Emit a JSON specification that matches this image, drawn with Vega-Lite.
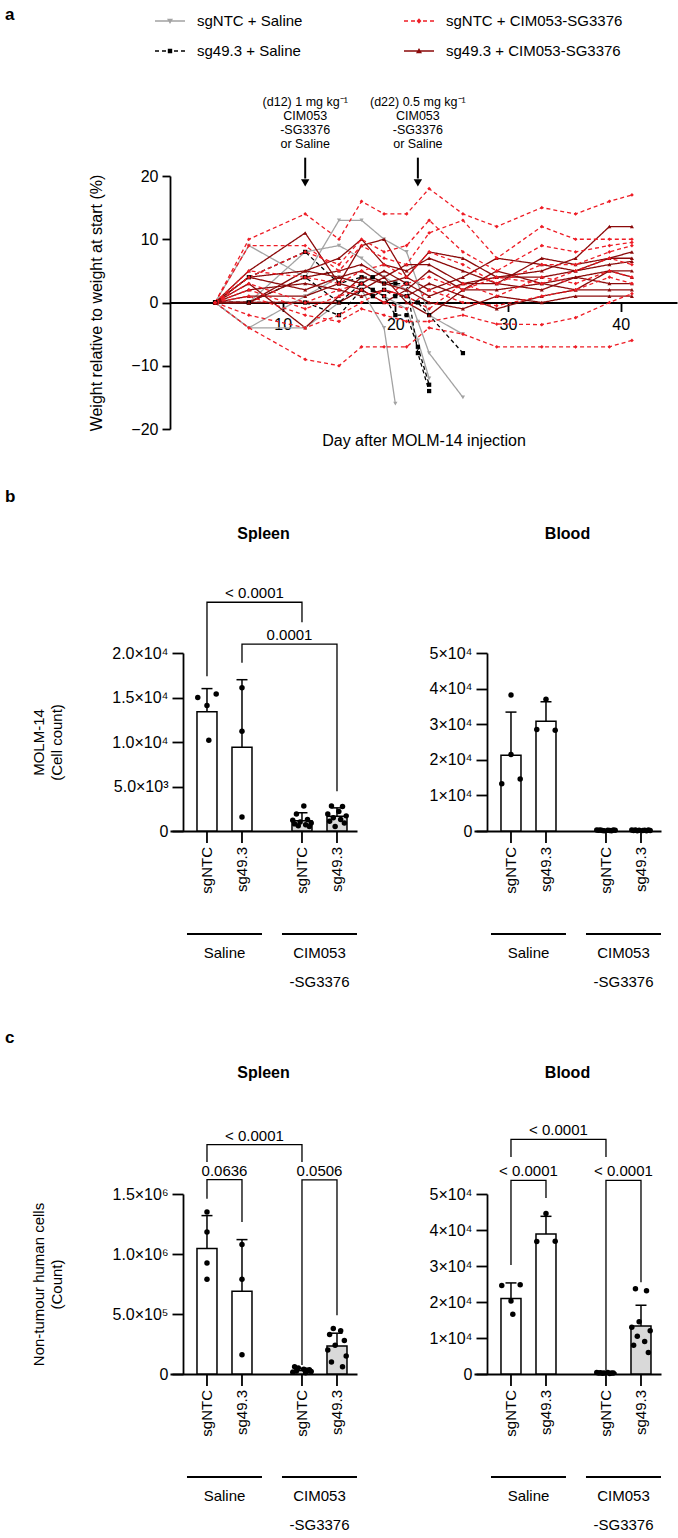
{
"$schema":"https://vega.github.io/schema/vega-lite/v6.json",
"padding":5,
"background":"white",
"spacing":39,
"config":{"font":"Liberation Sans","view":{"stroke":null},
"axis":{"labelFont":"Liberation Sans","titleFont":"Liberation Sans","labelColor":"black","titleColor":"black","domainColor":"black","tickColor":"black","domainWidth":1.8,"tickWidth":1.8,"grid":false,"titleFontWeight":"normal","labelFontSize":15,"titleFontSize":15,"labelOverlap":false},
"axisY":{"labelOverlap":false},
"axisQuantitative":{"labelOverlap":false},
"text":{"font":"Liberation Sans","color":"black"},
"title":{"font":"Liberation Sans","color":"black"},
"legend":{"labelFont":"Liberation Sans","labelColor":"black"}},
"datasets":{
"wt":[
{"g":"sgNTC + Saline","m":"G1","d":4,"v":0},{"g":"sgNTC + Saline","m":"G1","d":7,"v":9},{"g":"sgNTC + Saline","m":"G1","d":12,"v":4},{"g":"sgNTC + Saline","m":"G1","d":15,"v":13},{"g":"sgNTC + Saline","m":"G1","d":17,"v":13},{"g":"sgNTC + Saline","m":"G1","d":19,"v":10},{"g":"sgNTC + Saline","m":"G1","d":21,"v":8},{"g":"sgNTC + Saline","m":"G1","d":22,"v":3},{"g":"sgNTC + Saline","m":"G1","d":23,"v":-2},{"g":"sgNTC + Saline","m":"G1","d":26,"v":-5},
{"g":"sgNTC + Saline","m":"G2","d":4,"v":0},{"g":"sgNTC + Saline","m":"G2","d":7,"v":-4},{"g":"sgNTC + Saline","m":"G2","d":12,"v":-4},{"g":"sgNTC + Saline","m":"G2","d":15,"v":0},{"g":"sgNTC + Saline","m":"G2","d":17,"v":2},{"g":"sgNTC + Saline","m":"G2","d":19,"v":-4},{"g":"sgNTC + Saline","m":"G2","d":20,"v":-16},
{"g":"sgNTC + Saline","m":"G3","d":4,"v":0},{"g":"sgNTC + Saline","m":"G3","d":7,"v":0},{"g":"sgNTC + Saline","m":"G3","d":12,"v":8},{"g":"sgNTC + Saline","m":"G3","d":15,"v":9},{"g":"sgNTC + Saline","m":"G3","d":17,"v":7},{"g":"sgNTC + Saline","m":"G3","d":19,"v":4},{"g":"sgNTC + Saline","m":"G3","d":21,"v":2},{"g":"sgNTC + Saline","m":"G3","d":22,"v":-3},{"g":"sgNTC + Saline","m":"G3","d":23,"v":-8},{"g":"sgNTC + Saline","m":"G3","d":26,"v":-15},
{"g":"sgNTC + Saline","m":"G4","d":4,"v":0},{"g":"sgNTC + Saline","m":"G4","d":7,"v":-4},{"g":"sgNTC + Saline","m":"G4","d":12,"v":1},{"g":"sgNTC + Saline","m":"G4","d":15,"v":4},{"g":"sgNTC + Saline","m":"G4","d":17,"v":3},{"g":"sgNTC + Saline","m":"G4","d":19,"v":1},{"g":"sgNTC + Saline","m":"G4","d":21,"v":-1},{"g":"sgNTC + Saline","m":"G4","d":22,"v":-6},{"g":"sgNTC + Saline","m":"G4","d":23,"v":-12},
{"g":"sg49.3 + Saline","m":"B1","d":4,"v":0},{"g":"sg49.3 + Saline","m":"B1","d":7,"v":4},{"g":"sg49.3 + Saline","m":"B1","d":12,"v":8},{"g":"sg49.3 + Saline","m":"B1","d":15,"v":3},{"g":"sg49.3 + Saline","m":"B1","d":17,"v":4},{"g":"sg49.3 + Saline","m":"B1","d":18,"v":4},{"g":"sg49.3 + Saline","m":"B1","d":19,"v":3},{"g":"sg49.3 + Saline","m":"B1","d":20,"v":3},{"g":"sg49.3 + Saline","m":"B1","d":21,"v":3},{"g":"sg49.3 + Saline","m":"B1","d":22,"v":-8},{"g":"sg49.3 + Saline","m":"B1","d":23,"v":-14},
{"g":"sg49.3 + Saline","m":"B2","d":4,"v":0},{"g":"sg49.3 + Saline","m":"B2","d":7,"v":0},{"g":"sg49.3 + Saline","m":"B2","d":12,"v":4},{"g":"sg49.3 + Saline","m":"B2","d":15,"v":0},{"g":"sg49.3 + Saline","m":"B2","d":17,"v":3},{"g":"sg49.3 + Saline","m":"B2","d":18,"v":2},{"g":"sg49.3 + Saline","m":"B2","d":19,"v":1},{"g":"sg49.3 + Saline","m":"B2","d":20,"v":-2},{"g":"sg49.3 + Saline","m":"B2","d":21,"v":-2},{"g":"sg49.3 + Saline","m":"B2","d":22,"v":-7},{"g":"sg49.3 + Saline","m":"B2","d":23,"v":-13},
{"g":"sg49.3 + Saline","m":"B3","d":4,"v":0},{"g":"sg49.3 + Saline","m":"B3","d":7,"v":0},{"g":"sg49.3 + Saline","m":"B3","d":12,"v":0},{"g":"sg49.3 + Saline","m":"B3","d":15,"v":-2},{"g":"sg49.3 + Saline","m":"B3","d":17,"v":2},{"g":"sg49.3 + Saline","m":"B3","d":18,"v":1},{"g":"sg49.3 + Saline","m":"B3","d":19,"v":2},{"g":"sg49.3 + Saline","m":"B3","d":20,"v":1},{"g":"sg49.3 + Saline","m":"B3","d":21,"v":1},{"g":"sg49.3 + Saline","m":"B3","d":22,"v":0},{"g":"sg49.3 + Saline","m":"B3","d":23,"v":-2},{"g":"sg49.3 + Saline","m":"B3","d":26,"v":-8},
{"g":"sg49.3 + CIM053-SG3376","m":"D1","d":4,"v":0},{"g":"sg49.3 + CIM053-SG3376","m":"D1","d":7,"v":5},{"g":"sg49.3 + CIM053-SG3376","m":"D1","d":12,"v":11},{"g":"sg49.3 + CIM053-SG3376","m":"D1","d":15,"v":3},{"g":"sg49.3 + CIM053-SG3376","m":"D1","d":17,"v":9},{"g":"sg49.3 + CIM053-SG3376","m":"D1","d":19,"v":10},{"g":"sg49.3 + CIM053-SG3376","m":"D1","d":21,"v":4},{"g":"sg49.3 + CIM053-SG3376","m":"D1","d":23,"v":8},{"g":"sg49.3 + CIM053-SG3376","m":"D1","d":26,"v":7},{"g":"sg49.3 + CIM053-SG3376","m":"D1","d":29,"v":4},{"g":"sg49.3 + CIM053-SG3376","m":"D1","d":33,"v":5},{"g":"sg49.3 + CIM053-SG3376","m":"D1","d":36,"v":7},{"g":"sg49.3 + CIM053-SG3376","m":"D1","d":39,"v":12},{"g":"sg49.3 + CIM053-SG3376","m":"D1","d":41,"v":12},
{"g":"sg49.3 + CIM053-SG3376","m":"D2","d":4,"v":0},{"g":"sg49.3 + CIM053-SG3376","m":"D2","d":7,"v":4},{"g":"sg49.3 + CIM053-SG3376","m":"D2","d":12,"v":5},{"g":"sg49.3 + CIM053-SG3376","m":"D2","d":15,"v":7},{"g":"sg49.3 + CIM053-SG3376","m":"D2","d":17,"v":10},{"g":"sg49.3 + CIM053-SG3376","m":"D2","d":19,"v":6},{"g":"sg49.3 + CIM053-SG3376","m":"D2","d":21,"v":5},{"g":"sg49.3 + CIM053-SG3376","m":"D2","d":23,"v":7},{"g":"sg49.3 + CIM053-SG3376","m":"D2","d":26,"v":5},{"g":"sg49.3 + CIM053-SG3376","m":"D2","d":29,"v":3},{"g":"sg49.3 + CIM053-SG3376","m":"D2","d":33,"v":7},{"g":"sg49.3 + CIM053-SG3376","m":"D2","d":36,"v":6},{"g":"sg49.3 + CIM053-SG3376","m":"D2","d":39,"v":7},{"g":"sg49.3 + CIM053-SG3376","m":"D2","d":41,"v":8},
{"g":"sg49.3 + CIM053-SG3376","m":"D3","d":4,"v":0},{"g":"sg49.3 + CIM053-SG3376","m":"D3","d":7,"v":0},{"g":"sg49.3 + CIM053-SG3376","m":"D3","d":12,"v":4},{"g":"sg49.3 + CIM053-SG3376","m":"D3","d":15,"v":5},{"g":"sg49.3 + CIM053-SG3376","m":"D3","d":17,"v":6},{"g":"sg49.3 + CIM053-SG3376","m":"D3","d":19,"v":4},{"g":"sg49.3 + CIM053-SG3376","m":"D3","d":21,"v":6},{"g":"sg49.3 + CIM053-SG3376","m":"D3","d":23,"v":6},{"g":"sg49.3 + CIM053-SG3376","m":"D3","d":26,"v":3},{"g":"sg49.3 + CIM053-SG3376","m":"D3","d":29,"v":4},{"g":"sg49.3 + CIM053-SG3376","m":"D3","d":33,"v":4},{"g":"sg49.3 + CIM053-SG3376","m":"D3","d":36,"v":5},{"g":"sg49.3 + CIM053-SG3376","m":"D3","d":39,"v":7},{"g":"sg49.3 + CIM053-SG3376","m":"D3","d":41,"v":7},
{"g":"sg49.3 + CIM053-SG3376","m":"D4","d":4,"v":0},{"g":"sg49.3 + CIM053-SG3376","m":"D4","d":7,"v":3},{"g":"sg49.3 + CIM053-SG3376","m":"D4","d":12,"v":-4},{"g":"sg49.3 + CIM053-SG3376","m":"D4","d":15,"v":1},{"g":"sg49.3 + CIM053-SG3376","m":"D4","d":17,"v":4},{"g":"sg49.3 + CIM053-SG3376","m":"D4","d":19,"v":3},{"g":"sg49.3 + CIM053-SG3376","m":"D4","d":21,"v":2},{"g":"sg49.3 + CIM053-SG3376","m":"D4","d":23,"v":5},{"g":"sg49.3 + CIM053-SG3376","m":"D4","d":26,"v":2},{"g":"sg49.3 + CIM053-SG3376","m":"D4","d":29,"v":2},{"g":"sg49.3 + CIM053-SG3376","m":"D4","d":33,"v":3},{"g":"sg49.3 + CIM053-SG3376","m":"D4","d":36,"v":2},{"g":"sg49.3 + CIM053-SG3376","m":"D4","d":39,"v":5},{"g":"sg49.3 + CIM053-SG3376","m":"D4","d":41,"v":5},
{"g":"sg49.3 + CIM053-SG3376","m":"D5","d":4,"v":0},{"g":"sg49.3 + CIM053-SG3376","m":"D5","d":7,"v":0},{"g":"sg49.3 + CIM053-SG3376","m":"D5","d":12,"v":5},{"g":"sg49.3 + CIM053-SG3376","m":"D5","d":15,"v":4},{"g":"sg49.3 + CIM053-SG3376","m":"D5","d":17,"v":3},{"g":"sg49.3 + CIM053-SG3376","m":"D5","d":19,"v":5},{"g":"sg49.3 + CIM053-SG3376","m":"D5","d":21,"v":3},{"g":"sg49.3 + CIM053-SG3376","m":"D5","d":23,"v":1},{"g":"sg49.3 + CIM053-SG3376","m":"D5","d":26,"v":3},{"g":"sg49.3 + CIM053-SG3376","m":"D5","d":29,"v":3},{"g":"sg49.3 + CIM053-SG3376","m":"D5","d":33,"v":2},{"g":"sg49.3 + CIM053-SG3376","m":"D5","d":36,"v":4},{"g":"sg49.3 + CIM053-SG3376","m":"D5","d":39,"v":3},{"g":"sg49.3 + CIM053-SG3376","m":"D5","d":41,"v":3},
{"g":"sg49.3 + CIM053-SG3376","m":"D6","d":4,"v":0},{"g":"sg49.3 + CIM053-SG3376","m":"D6","d":7,"v":2},{"g":"sg49.3 + CIM053-SG3376","m":"D6","d":12,"v":3},{"g":"sg49.3 + CIM053-SG3376","m":"D6","d":15,"v":2},{"g":"sg49.3 + CIM053-SG3376","m":"D6","d":17,"v":1},{"g":"sg49.3 + CIM053-SG3376","m":"D6","d":19,"v":2},{"g":"sg49.3 + CIM053-SG3376","m":"D6","d":21,"v":1},{"g":"sg49.3 + CIM053-SG3376","m":"D6","d":23,"v":3},{"g":"sg49.3 + CIM053-SG3376","m":"D6","d":26,"v":1},{"g":"sg49.3 + CIM053-SG3376","m":"D6","d":29,"v":-1},{"g":"sg49.3 + CIM053-SG3376","m":"D6","d":33,"v":1},{"g":"sg49.3 + CIM053-SG3376","m":"D6","d":36,"v":2},{"g":"sg49.3 + CIM053-SG3376","m":"D6","d":39,"v":2},{"g":"sg49.3 + CIM053-SG3376","m":"D6","d":41,"v":2},
{"g":"sg49.3 + CIM053-SG3376","m":"D7","d":4,"v":0},{"g":"sg49.3 + CIM053-SG3376","m":"D7","d":7,"v":0},{"g":"sg49.3 + CIM053-SG3376","m":"D7","d":12,"v":0},{"g":"sg49.3 + CIM053-SG3376","m":"D7","d":15,"v":0},{"g":"sg49.3 + CIM053-SG3376","m":"D7","d":17,"v":2},{"g":"sg49.3 + CIM053-SG3376","m":"D7","d":19,"v":0},{"g":"sg49.3 + CIM053-SG3376","m":"D7","d":21,"v":2},{"g":"sg49.3 + CIM053-SG3376","m":"D7","d":23,"v":0},{"g":"sg49.3 + CIM053-SG3376","m":"D7","d":26,"v":-1},{"g":"sg49.3 + CIM053-SG3376","m":"D7","d":29,"v":1},{"g":"sg49.3 + CIM053-SG3376","m":"D7","d":33,"v":0},{"g":"sg49.3 + CIM053-SG3376","m":"D7","d":36,"v":1},{"g":"sg49.3 + CIM053-SG3376","m":"D7","d":39,"v":1},{"g":"sg49.3 + CIM053-SG3376","m":"D7","d":41,"v":1},
{"g":"sg49.3 + CIM053-SG3376","m":"D8","d":4,"v":0},{"g":"sg49.3 + CIM053-SG3376","m":"D8","d":7,"v":4},{"g":"sg49.3 + CIM053-SG3376","m":"D8","d":12,"v":2},{"g":"sg49.3 + CIM053-SG3376","m":"D8","d":15,"v":4},{"g":"sg49.3 + CIM053-SG3376","m":"D8","d":17,"v":5},{"g":"sg49.3 + CIM053-SG3376","m":"D8","d":19,"v":3},{"g":"sg49.3 + CIM053-SG3376","m":"D8","d":21,"v":4},{"g":"sg49.3 + CIM053-SG3376","m":"D8","d":23,"v":2},{"g":"sg49.3 + CIM053-SG3376","m":"D8","d":26,"v":4},{"g":"sg49.3 + CIM053-SG3376","m":"D8","d":29,"v":7},{"g":"sg49.3 + CIM053-SG3376","m":"D8","d":33,"v":6},{"g":"sg49.3 + CIM053-SG3376","m":"D8","d":36,"v":5},{"g":"sg49.3 + CIM053-SG3376","m":"D8","d":39,"v":6},{"g":"sg49.3 + CIM053-SG3376","m":"D8","d":41,"v":6.5},
{"g":"sg49.3 + CIM053-SG3376","m":"D9","d":4,"v":0},{"g":"sg49.3 + CIM053-SG3376","m":"D9","d":7,"v":1},{"g":"sg49.3 + CIM053-SG3376","m":"D9","d":12,"v":1},{"g":"sg49.3 + CIM053-SG3376","m":"D9","d":15,"v":3},{"g":"sg49.3 + CIM053-SG3376","m":"D9","d":17,"v":2},{"g":"sg49.3 + CIM053-SG3376","m":"D9","d":19,"v":4},{"g":"sg49.3 + CIM053-SG3376","m":"D9","d":21,"v":0},{"g":"sg49.3 + CIM053-SG3376","m":"D9","d":23,"v":-2},{"g":"sg49.3 + CIM053-SG3376","m":"D9","d":26,"v":2},{"g":"sg49.3 + CIM053-SG3376","m":"D9","d":29,"v":5},{"g":"sg49.3 + CIM053-SG3376","m":"D9","d":33,"v":3},{"g":"sg49.3 + CIM053-SG3376","m":"D9","d":36,"v":4},{"g":"sg49.3 + CIM053-SG3376","m":"D9","d":39,"v":5},{"g":"sg49.3 + CIM053-SG3376","m":"D9","d":41,"v":4},
{"g":"sgNTC + CIM053-SG3376","m":"R1","d":4,"v":0},{"g":"sgNTC + CIM053-SG3376","m":"R1","d":7,"v":10},{"g":"sgNTC + CIM053-SG3376","m":"R1","d":12,"v":14},{"g":"sgNTC + CIM053-SG3376","m":"R1","d":15,"v":10},{"g":"sgNTC + CIM053-SG3376","m":"R1","d":17,"v":16},{"g":"sgNTC + CIM053-SG3376","m":"R1","d":19,"v":14},{"g":"sgNTC + CIM053-SG3376","m":"R1","d":21,"v":14},{"g":"sgNTC + CIM053-SG3376","m":"R1","d":23,"v":18},{"g":"sgNTC + CIM053-SG3376","m":"R1","d":26,"v":14},{"g":"sgNTC + CIM053-SG3376","m":"R1","d":29,"v":12},{"g":"sgNTC + CIM053-SG3376","m":"R1","d":33,"v":15},{"g":"sgNTC + CIM053-SG3376","m":"R1","d":36,"v":14},{"g":"sgNTC + CIM053-SG3376","m":"R1","d":39,"v":16},{"g":"sgNTC + CIM053-SG3376","m":"R1","d":41,"v":17},
{"g":"sgNTC + CIM053-SG3376","m":"R2","d":4,"v":0},{"g":"sgNTC + CIM053-SG3376","m":"R2","d":7,"v":9},{"g":"sgNTC + CIM053-SG3376","m":"R2","d":12,"v":9},{"g":"sgNTC + CIM053-SG3376","m":"R2","d":15,"v":5},{"g":"sgNTC + CIM053-SG3376","m":"R2","d":17,"v":9},{"g":"sgNTC + CIM053-SG3376","m":"R2","d":19,"v":7},{"g":"sgNTC + CIM053-SG3376","m":"R2","d":21,"v":6},{"g":"sgNTC + CIM053-SG3376","m":"R2","d":23,"v":11},{"g":"sgNTC + CIM053-SG3376","m":"R2","d":26,"v":13},{"g":"sgNTC + CIM053-SG3376","m":"R2","d":29,"v":7},{"g":"sgNTC + CIM053-SG3376","m":"R2","d":33,"v":12},{"g":"sgNTC + CIM053-SG3376","m":"R2","d":36,"v":10},{"g":"sgNTC + CIM053-SG3376","m":"R2","d":39,"v":10},{"g":"sgNTC + CIM053-SG3376","m":"R2","d":41,"v":10},
{"g":"sgNTC + CIM053-SG3376","m":"R3","d":4,"v":0},{"g":"sgNTC + CIM053-SG3376","m":"R3","d":7,"v":4},{"g":"sgNTC + CIM053-SG3376","m":"R3","d":12,"v":8},{"g":"sgNTC + CIM053-SG3376","m":"R3","d":15,"v":6},{"g":"sgNTC + CIM053-SG3376","m":"R3","d":17,"v":10},{"g":"sgNTC + CIM053-SG3376","m":"R3","d":19,"v":8},{"g":"sgNTC + CIM053-SG3376","m":"R3","d":21,"v":9},{"g":"sgNTC + CIM053-SG3376","m":"R3","d":23,"v":13},{"g":"sgNTC + CIM053-SG3376","m":"R3","d":26,"v":8},{"g":"sgNTC + CIM053-SG3376","m":"R3","d":29,"v":5},{"g":"sgNTC + CIM053-SG3376","m":"R3","d":33,"v":9},{"g":"sgNTC + CIM053-SG3376","m":"R3","d":36,"v":8},{"g":"sgNTC + CIM053-SG3376","m":"R3","d":39,"v":9},{"g":"sgNTC + CIM053-SG3376","m":"R3","d":41,"v":9.5},
{"g":"sgNTC + CIM053-SG3376","m":"R4","d":4,"v":0},{"g":"sgNTC + CIM053-SG3376","m":"R4","d":7,"v":5},{"g":"sgNTC + CIM053-SG3376","m":"R4","d":12,"v":4},{"g":"sgNTC + CIM053-SG3376","m":"R4","d":15,"v":3},{"g":"sgNTC + CIM053-SG3376","m":"R4","d":17,"v":5},{"g":"sgNTC + CIM053-SG3376","m":"R4","d":19,"v":6},{"g":"sgNTC + CIM053-SG3376","m":"R4","d":21,"v":4},{"g":"sgNTC + CIM053-SG3376","m":"R4","d":23,"v":8},{"g":"sgNTC + CIM053-SG3376","m":"R4","d":26,"v":6},{"g":"sgNTC + CIM053-SG3376","m":"R4","d":29,"v":3},{"g":"sgNTC + CIM053-SG3376","m":"R4","d":33,"v":6},{"g":"sgNTC + CIM053-SG3376","m":"R4","d":36,"v":6},{"g":"sgNTC + CIM053-SG3376","m":"R4","d":39,"v":8},{"g":"sgNTC + CIM053-SG3376","m":"R4","d":41,"v":9},
{"g":"sgNTC + CIM053-SG3376","m":"R5","d":4,"v":0},{"g":"sgNTC + CIM053-SG3376","m":"R5","d":7,"v":3},{"g":"sgNTC + CIM053-SG3376","m":"R5","d":12,"v":0},{"g":"sgNTC + CIM053-SG3376","m":"R5","d":15,"v":2},{"g":"sgNTC + CIM053-SG3376","m":"R5","d":17,"v":3},{"g":"sgNTC + CIM053-SG3376","m":"R5","d":19,"v":1},{"g":"sgNTC + CIM053-SG3376","m":"R5","d":21,"v":3},{"g":"sgNTC + CIM053-SG3376","m":"R5","d":23,"v":4},{"g":"sgNTC + CIM053-SG3376","m":"R5","d":26,"v":2},{"g":"sgNTC + CIM053-SG3376","m":"R5","d":29,"v":4},{"g":"sgNTC + CIM053-SG3376","m":"R5","d":33,"v":3},{"g":"sgNTC + CIM053-SG3376","m":"R5","d":36,"v":5},{"g":"sgNTC + CIM053-SG3376","m":"R5","d":39,"v":7},{"g":"sgNTC + CIM053-SG3376","m":"R5","d":41,"v":6},
{"g":"sgNTC + CIM053-SG3376","m":"R6","d":4,"v":0},{"g":"sgNTC + CIM053-SG3376","m":"R6","d":7,"v":-2},{"g":"sgNTC + CIM053-SG3376","m":"R6","d":12,"v":-4},{"g":"sgNTC + CIM053-SG3376","m":"R6","d":15,"v":-2},{"g":"sgNTC + CIM053-SG3376","m":"R6","d":17,"v":0},{"g":"sgNTC + CIM053-SG3376","m":"R6","d":19,"v":2},{"g":"sgNTC + CIM053-SG3376","m":"R6","d":21,"v":1},{"g":"sgNTC + CIM053-SG3376","m":"R6","d":23,"v":-1},{"g":"sgNTC + CIM053-SG3376","m":"R6","d":26,"v":3},{"g":"sgNTC + CIM053-SG3376","m":"R6","d":29,"v":1},{"g":"sgNTC + CIM053-SG3376","m":"R6","d":33,"v":4},{"g":"sgNTC + CIM053-SG3376","m":"R6","d":36,"v":3},{"g":"sgNTC + CIM053-SG3376","m":"R6","d":39,"v":5},{"g":"sgNTC + CIM053-SG3376","m":"R6","d":41,"v":4},
{"g":"sgNTC + CIM053-SG3376","m":"R7","d":4,"v":0},{"g":"sgNTC + CIM053-SG3376","m":"R7","d":7,"v":1},{"g":"sgNTC + CIM053-SG3376","m":"R7","d":12,"v":-2},{"g":"sgNTC + CIM053-SG3376","m":"R7","d":15,"v":-3},{"g":"sgNTC + CIM053-SG3376","m":"R7","d":17,"v":-1},{"g":"sgNTC + CIM053-SG3376","m":"R7","d":19,"v":-2},{"g":"sgNTC + CIM053-SG3376","m":"R7","d":21,"v":-3},{"g":"sgNTC + CIM053-SG3376","m":"R7","d":23,"v":-3},{"g":"sgNTC + CIM053-SG3376","m":"R7","d":26,"v":-2},{"g":"sgNTC + CIM053-SG3376","m":"R7","d":29,"v":-3.4},{"g":"sgNTC + CIM053-SG3376","m":"R7","d":33,"v":-3.5},{"g":"sgNTC + CIM053-SG3376","m":"R7","d":36,"v":-2.4},{"g":"sgNTC + CIM053-SG3376","m":"R7","d":39,"v":0},{"g":"sgNTC + CIM053-SG3376","m":"R7","d":41,"v":1.4},
{"g":"sgNTC + CIM053-SG3376","m":"R8","d":4,"v":0},{"g":"sgNTC + CIM053-SG3376","m":"R8","d":7,"v":-4},{"g":"sgNTC + CIM053-SG3376","m":"R8","d":12,"v":-9},{"g":"sgNTC + CIM053-SG3376","m":"R8","d":15,"v":-10},{"g":"sgNTC + CIM053-SG3376","m":"R8","d":17,"v":-7},{"g":"sgNTC + CIM053-SG3376","m":"R8","d":19,"v":-7},{"g":"sgNTC + CIM053-SG3376","m":"R8","d":21,"v":-7},{"g":"sgNTC + CIM053-SG3376","m":"R8","d":23,"v":-4},{"g":"sgNTC + CIM053-SG3376","m":"R8","d":26,"v":-5},{"g":"sgNTC + CIM053-SG3376","m":"R8","d":29,"v":-7},{"g":"sgNTC + CIM053-SG3376","m":"R8","d":33,"v":-7},{"g":"sgNTC + CIM053-SG3376","m":"R8","d":36,"v":-7},{"g":"sgNTC + CIM053-SG3376","m":"R8","d":39,"v":-7},{"g":"sgNTC + CIM053-SG3376","m":"R8","d":41,"v":-6},
{"g":"sgNTC + CIM053-SG3376","m":"R9","d":4,"v":0},{"g":"sgNTC + CIM053-SG3376","m":"R9","d":7,"v":2},{"g":"sgNTC + CIM053-SG3376","m":"R9","d":12,"v":-1},{"g":"sgNTC + CIM053-SG3376","m":"R9","d":15,"v":1},{"g":"sgNTC + CIM053-SG3376","m":"R9","d":17,"v":2},{"g":"sgNTC + CIM053-SG3376","m":"R9","d":19,"v":0},{"g":"sgNTC + CIM053-SG3376","m":"R9","d":21,"v":-1},{"g":"sgNTC + CIM053-SG3376","m":"R9","d":23,"v":2},{"g":"sgNTC + CIM053-SG3376","m":"R9","d":26,"v":0},{"g":"sgNTC + CIM053-SG3376","m":"R9","d":29,"v":-0.5},{"g":"sgNTC + CIM053-SG3376","m":"R9","d":33,"v":1},{"g":"sgNTC + CIM053-SG3376","m":"R9","d":36,"v":2},{"g":"sgNTC + CIM053-SG3376","m":"R9","d":39,"v":4},{"g":"sgNTC + CIM053-SG3376","m":"R9","d":41,"v":3}
],
"anno":[{"d":12,"t":"(d12) 1 mg kg⁻¹|CIM053|-SG3376|or Saline"},{"d":22,"t":"(d22) 0.5 mg kg⁻¹|CIM053|-SG3376|or Saline"}],
"bars":[
{"p":"bS","tr":"Saline","gd":"sgNTC","v":13400,"hi":16000},{"p":"bS","tr":"Saline","gd":"sg49.3","v":9400,"hi":17000},{"p":"bS","tr":"CIM","gd":"sgNTC","v":1150,"hi":2050},{"p":"bS","tr":"CIM","gd":"sg49.3","v":1650,"hi":2600},
{"p":"bB","tr":"Saline","gd":"sgNTC","v":21300,"hi":33400},{"p":"bB","tr":"Saline","gd":"sg49.3","v":30800,"hi":36300},{"p":"bB","tr":"CIM","gd":"sgNTC","v":180,"hi":300},{"p":"bB","tr":"CIM","gd":"sg49.3","v":170,"hi":290},
{"p":"cS","tr":"Saline","gd":"sgNTC","v":1045000,"hi":1320000},{"p":"cS","tr":"Saline","gd":"sg49.3","v":690000,"hi":1120000},{"p":"cS","tr":"CIM","gd":"sgNTC","v":30000,"hi":48000},{"p":"cS","tr":"CIM","gd":"sg49.3","v":233000,"hi":340000},
{"p":"cB","tr":"Saline","gd":"sgNTC","v":21000,"hi":25300},{"p":"cB","tr":"Saline","gd":"sg49.3","v":38900,"hi":43800},{"p":"cB","tr":"CIM","gd":"sgNTC","v":300,"hi":420},{"p":"cB","tr":"CIM","gd":"sg49.3","v":13300,"hi":19100}
],
"pts":[
{"p":"bS","tr":"Saline","s":"N1","v":15000},{"p":"bS","tr":"Saline","s":"N10","v":15400},{"p":"bS","tr":"Saline","s":"sgNTC","v":14100},{"p":"bS","tr":"Saline","s":"N6","v":10200},
{"p":"bS","tr":"Saline","s":"sg49.3","v":16100},{"p":"bS","tr":"Saline","s":"sg49.3","v":11200},{"p":"bS","tr":"Saline","s":"sg49.3","v":1570},
{"p":"bS","tr":"CIM","s":"N6","v":2800},{"p":"bS","tr":"CIM","s":"N3","v":1900},{"p":"bS","tr":"CIM","s":"N8","v":1300},{"p":"bS","tr":"CIM","s":"N1","v":1200},{"p":"bS","tr":"CIM","s":"N5","v":1000},{"p":"bS","tr":"CIM","s":"N10","v":900},{"p":"bS","tr":"CIM","s":"N2","v":800},{"p":"bS","tr":"CIM","s":"N7","v":700},{"p":"bS","tr":"CIM","s":"N4","v":600},{"p":"bS","tr":"CIM","s":"N9","v":500},
{"p":"bS","tr":"CIM","s":"S3","v":2800},{"p":"bS","tr":"CIM","s":"S8","v":2750},{"p":"bS","tr":"CIM","s":"S6","v":2200},{"p":"bS","tr":"CIM","s":"S1","v":1900},{"p":"bS","tr":"CIM","s":"S10","v":1700},{"p":"bS","tr":"CIM","s":"S4","v":1500},{"p":"bS","tr":"CIM","s":"S7","v":1300},{"p":"bS","tr":"CIM","s":"S2","v":1100},{"p":"bS","tr":"CIM","s":"S9","v":900},{"p":"bS","tr":"CIM","s":"S5","v":500},
{"p":"bB","tr":"Saline","s":"sgNTC","v":38200},{"p":"bB","tr":"Saline","s":"sgNTC","v":21500},{"p":"bB","tr":"Saline","s":"N10","v":14600},{"p":"bB","tr":"Saline","s":"N1","v":13300},
{"p":"bB","tr":"Saline","s":"sg49.3","v":37000},{"p":"bB","tr":"Saline","s":"S1","v":28500},{"p":"bB","tr":"Saline","s":"S10","v":28300},
{"p":"bB","tr":"CIM","s":"N1","v":300},{"p":"bB","tr":"CIM","s":"N2","v":200},{"p":"bB","tr":"CIM","s":"N3","v":250},{"p":"bB","tr":"CIM","s":"N4","v":150},{"p":"bB","tr":"CIM","s":"N5","v":100},{"p":"bB","tr":"CIM","s":"N6","v":200},{"p":"bB","tr":"CIM","s":"N7","v":120},{"p":"bB","tr":"CIM","s":"N8","v":80},{"p":"bB","tr":"CIM","s":"N9","v":260},{"p":"bB","tr":"CIM","s":"N10","v":180},
{"p":"bB","tr":"CIM","s":"S1","v":250},{"p":"bB","tr":"CIM","s":"S2","v":150},{"p":"bB","tr":"CIM","s":"S3","v":300},{"p":"bB","tr":"CIM","s":"S4","v":100},{"p":"bB","tr":"CIM","s":"S5","v":200},{"p":"bB","tr":"CIM","s":"S6","v":120},{"p":"bB","tr":"CIM","s":"S7","v":180},{"p":"bB","tr":"CIM","s":"S8","v":90},{"p":"bB","tr":"CIM","s":"S9","v":260},{"p":"bB","tr":"CIM","s":"S10","v":140},
{"p":"cS","tr":"Saline","s":"sgNTC","v":1350000},{"p":"cS","tr":"Saline","s":"sgNTC","v":1183000},{"p":"cS","tr":"Saline","s":"sgNTC","v":925000},{"p":"cS","tr":"Saline","s":"sgNTC","v":789000},
{"p":"cS","tr":"Saline","s":"sg49.3","v":1080000},{"p":"cS","tr":"Saline","s":"sg49.3","v":789000},{"p":"cS","tr":"Saline","s":"sg49.3","v":160000},
{"p":"cS","tr":"CIM","s":"N2","v":60000},{"p":"cS","tr":"CIM","s":"N4","v":50000},{"p":"cS","tr":"CIM","s":"N6","v":40000},{"p":"cS","tr":"CIM","s":"N8","v":30000},{"p":"cS","tr":"CIM","s":"N10","v":20000},{"p":"cS","tr":"CIM","s":"N1","v":15000},{"p":"cS","tr":"CIM","s":"N3","v":25000},{"p":"cS","tr":"CIM","s":"N7","v":10000},{"p":"cS","tr":"CIM","s":"N9","v":35000},
{"p":"cS","tr":"CIM","s":"S4","v":380000},{"p":"cS","tr":"CIM","s":"S7","v":360000},{"p":"cS","tr":"CIM","s":"S2","v":330000},{"p":"cS","tr":"CIM","s":"S9","v":280000},{"p":"cS","tr":"CIM","s":"S5","v":240000},{"p":"cS","tr":"CIM","s":"S1","v":200000},{"p":"cS","tr":"CIM","s":"S10","v":150000},{"p":"cS","tr":"CIM","s":"S3","v":100000},{"p":"cS","tr":"CIM","s":"S8","v":60000},
{"p":"cB","tr":"Saline","s":"N1","v":24600},{"p":"cB","tr":"Saline","s":"N10","v":24800},{"p":"cB","tr":"Saline","s":"sgNTC","v":20300},{"p":"cB","tr":"Saline","s":"N6","v":16600},
{"p":"cB","tr":"Saline","s":"sg49.3","v":44600},{"p":"cB","tr":"Saline","s":"S1","v":36800},{"p":"cB","tr":"Saline","s":"S10","v":36900},
{"p":"cB","tr":"CIM","s":"N1","v":400},{"p":"cB","tr":"CIM","s":"N2","v":250},{"p":"cB","tr":"CIM","s":"N3","v":350},{"p":"cB","tr":"CIM","s":"N4","v":200},{"p":"cB","tr":"CIM","s":"N5","v":300},{"p":"cB","tr":"CIM","s":"N6","v":450},{"p":"cB","tr":"CIM","s":"N7","v":150},{"p":"cB","tr":"CIM","s":"N8","v":300},{"p":"cB","tr":"CIM","s":"N9","v":250},
{"p":"cB","tr":"CIM","s":"S3","v":23700},{"p":"cB","tr":"CIM","s":"S8","v":23100},{"p":"cB","tr":"CIM","s":"S5","v":14500},{"p":"cB","tr":"CIM","s":"S1","v":13000},{"p":"cB","tr":"CIM","s":"S10","v":12000},{"p":"cB","tr":"CIM","s":"S4","v":10500},{"p":"cB","tr":"CIM","s":"S7","v":9000},{"p":"cB","tr":"CIM","s":"S2","v":8000},{"p":"cB","tr":"CIM","s":"S9","v":6000}
],
"brk":[
{"p":"bS","id":"b1","k":1,"tr":"Saline","gd":"sgNTC","v":17400},{"p":"bS","id":"b1","k":2,"tr":"Saline","gd":"sgNTC","v":25700},{"p":"bS","id":"b1","k":3,"tr":"CIM","gd":"sgNTC","v":25700},{"p":"bS","id":"b1","k":4,"tr":"CIM","gd":"sgNTC","v":23450},
{"p":"bS","id":"b2","k":1,"tr":"Saline","gd":"sg49.3","v":18900},{"p":"bS","id":"b2","k":2,"tr":"Saline","gd":"sg49.3","v":21000},{"p":"bS","id":"b2","k":3,"tr":"CIM","gd":"sg49.3","v":21000},{"p":"bS","id":"b2","k":4,"tr":"CIM","gd":"sg49.3","v":4460},
{"p":"cS","id":"c1","k":1,"tr":"Saline","gd":"sgNTC","v":1767000},{"p":"cS","id":"c1","k":2,"tr":"Saline","gd":"sgNTC","v":1911000},{"p":"cS","id":"c1","k":3,"tr":"CIM","gd":"sgNTC","v":1911000},{"p":"cS","id":"c1","k":4,"tr":"CIM","gd":"sgNTC","v":1767000},
{"p":"cS","id":"c2","k":1,"tr":"Saline","gd":"sgNTC","v":1461000},{"p":"cS","id":"c2","k":2,"tr":"Saline","gd":"sgNTC","v":1619000},{"p":"cS","id":"c2","k":3,"tr":"Saline","gd":"sg49.3","v":1619000},{"p":"cS","id":"c2","k":4,"tr":"Saline","gd":"sg49.3","v":1267000},
{"p":"cS","id":"c3","k":1,"tr":"CIM","gd":"sgNTC","v":75000},{"p":"cS","id":"c3","k":2,"tr":"CIM","gd":"sgNTC","v":1617000},{"p":"cS","id":"c3","k":3,"tr":"CIM","gd":"sg49.3","v":1617000},{"p":"cS","id":"c3","k":4,"tr":"CIM","gd":"sg49.3","v":490000},
{"p":"cB","id":"d1","k":1,"tr":"Saline","gd":"sgNTC","v":60300},{"p":"cB","id":"d1","k":2,"tr":"Saline","gd":"sgNTC","v":65200},{"p":"cB","id":"d1","k":3,"tr":"CIM","gd":"sgNTC","v":65200},{"p":"cB","id":"d1","k":4,"tr":"CIM","gd":"sgNTC","v":60300},
{"p":"cB","id":"d2","k":1,"tr":"Saline","gd":"sgNTC","v":30300},{"p":"cB","id":"d2","k":2,"tr":"Saline","gd":"sgNTC","v":53800},{"p":"cB","id":"d2","k":3,"tr":"Saline","gd":"sg49.3","v":53800},{"p":"cB","id":"d2","k":4,"tr":"Saline","gd":"sg49.3","v":48900},
{"p":"cB","id":"d3","k":1,"tr":"CIM","gd":"sgNTC","v":1000},{"p":"cB","id":"d3","k":2,"tr":"CIM","gd":"sgNTC","v":53800},{"p":"cB","id":"d3","k":3,"tr":"CIM","gd":"sg49.3","v":53800},{"p":"cB","id":"d3","k":4,"tr":"CIM","gd":"sg49.3","v":25500}
],
"btxt":[
{"p":"bS","kind":"cross","tr":"Saline","gd":"sgNTC","v":25700,"t":"< 0.0001"},{"p":"bS","kind":"cross","tr":"Saline","gd":"sg49.3","v":21000,"t":"0.0001"},
{"p":"cS","kind":"cross","tr":"Saline","gd":"sgNTC","v":1911000,"t":"< 0.0001"},{"p":"cS","kind":"within","tr":"Saline","gd":"sgNTC","v":1619000,"t":"0.0636"},{"p":"cS","kind":"within","tr":"CIM","gd":"sgNTC","v":1617000,"t":"0.0506"},
{"p":"cB","kind":"cross","tr":"Saline","gd":"sgNTC","v":65200,"t":"< 0.0001"},{"p":"cB","kind":"within","tr":"Saline","gd":"sgNTC","v":53800,"t":"< 0.0001"},{"p":"cB","kind":"within","tr":"CIM","gd":"sgNTC","v":53800,"t":"< 0.0001"}
]
},
"vconcat":[
{
"title":{"text":"a","anchor":"start","frame":"group","fontSize":17,"fontWeight":"bold","dx":-165,"offset":72},
"width":507,"height":253,
"layer":[
{"data":{"name":"wt"},"mark":{"type":"line","strokeWidth":1.3},"encoding":{
"x":{"field":"d","type":"quantitative","title":"Day after MOLM-14 injection","scale":{"domain":[0,45],"nice":false},"axis":{"values":[10,20,30,40],"offset":-126.5,"tickSize":9,"labelPadding":5,"labelFontSize":16,"titleFontSize":16,"titlePadding":100,"labelFlush":false}},
"y":{"field":"v","type":"quantitative","title":"Weight relative to weight at start (%)","scale":{"domain":[-20,20],"nice":false},"axis":{"values":[-20,-10,0,10,20],"tickSize":8,"labelPadding":4,"labelFontSize":16,"titleFontSize":16,"titlePadding":26}},
"stroke":{"field":"g","type":"nominal","scale":{"domain":["sgNTC + Saline","sg49.3 + Saline","sgNTC + CIM053-SG3376","sg49.3 + CIM053-SG3376"],"range":["#a3a3a3","#000000","#ee1c25","#8b0a0a"]},"legend":null},"strokeDash":{"field":"g","type":"nominal","scale":{"domain":["sgNTC + Saline","sg49.3 + Saline","sgNTC + CIM053-SG3376","sg49.3 + CIM053-SG3376"],"range":[[1,0],[4,3],[4,3],[1,0]]},"legend":null},"detail":{"field":"m"},"order":{"field":"d"}}},
{"data":{"name":"wt"},"transform":[{"filter":"datum.g == 'sgNTC + Saline'"}],"mark":{"type":"point","shape":"triangle-down","filled":true,"color":"#a3a3a3","size":18,"opacity":1},"encoding":{"x":{"field":"d","type":"quantitative"},"y":{"field":"v","type":"quantitative"}}},
{"data":{"name":"wt"},"transform":[{"filter":"datum.g == 'sg49.3 + Saline'"}],"mark":{"type":"point","shape":"square","filled":true,"color":"#000000","size":18,"opacity":1},"encoding":{"x":{"field":"d","type":"quantitative"},"y":{"field":"v","type":"quantitative"}}},
{"data":{"name":"wt"},"transform":[{"filter":"datum.g == 'sg49.3 + CIM053-SG3376'"}],"mark":{"type":"point","shape":"triangle-up","filled":true,"color":"#8b0a0a","size":16,"opacity":1},"encoding":{"x":{"field":"d","type":"quantitative"},"y":{"field":"v","type":"quantitative"}}},
{"data":{"name":"wt"},"transform":[{"filter":"datum.g == 'sgNTC + CIM053-SG3376'"}],"mark":{"type":"point","shape":"diamond","filled":true,"color":"#ee1c25","size":14,"opacity":1},"encoding":{"x":{"field":"d","type":"quantitative"},"y":{"field":"v","type":"quantitative"}}},
{"data":{"name":"anno"},"mark":{"type":"rule","strokeWidth":2,"color":"black"},"encoding":{"x":{"field":"d","type":"quantitative"},"y":{"datum":22.9},"y2":{"datum":19.6}}},
{"data":{"name":"anno"},"mark":{"type":"point","shape":"triangle-down","filled":true,"color":"black","size":70,"opacity":1},"encoding":{"x":{"field":"d","type":"quantitative"},"y":{"datum":18.9}}},
{"data":{"name":"anno"},"mark":{"type":"text","baseline":"bottom","dy":-49,"fontSize":12.5,"lineHeight":14,"lineBreak":"|"},"encoding":{"x":{"field":"d","type":"quantitative"},"y":{"datum":22.9},"text":{"field":"t"}}},
{"data":{"values":[]},"mark":{"type":"point","filled":true,"opacity":1,"size":400},"encoding":{
"x":{"field":"d","type":"quantitative"},"y":{"field":"v","type":"quantitative"},
"fill":{"field":"g","type":"nominal","scale":{"domain":["sgNTC + Saline","sgNTC + CIM053-SG3376","sg49.3 + Saline","sg49.3 + CIM053-SG3376"],"range":["#a3a3a3","#ee1c25","#000000","#8b0a0a"]},"legend":{"orient":"none","legendX":-10,"legendY":-165,"columns":2,"direction":"horizontal","title":null,"symbolSize":400,"symbolStrokeWidth":0,"symbolOpacity":1,"labelFontSize":15,"labelOffset":17,"labelLimit":400,"columnPadding":101,"rowPadding":12}},
"shape":{"field":"g","type":"nominal","scale":{"domain":["sgNTC + Saline","sgNTC + CIM053-SG3376","sg49.3 + Saline","sg49.3 + CIM053-SG3376"],"range":["M-1.5,-0.07H1.5V0.07H-1.5ZM-0.3,-0.22H0.3L0,0.3Z","M-1.5,-0.07H-1.1V0.07H-1.5ZM-0.8,-0.07H-0.4V0.07H-0.8ZM0.4,-0.07H0.8V0.07H0.4ZM1.1,-0.07H1.5V0.07H1.1ZM0,-0.28L0.24,0L0,0.28L-0.24,0Z","M-1.5,-0.07H-1.1V0.07H-1.5ZM-0.8,-0.07H-0.4V0.07H-0.8ZM0.4,-0.07H0.8V0.07H0.4ZM1.1,-0.07H1.5V0.07H1.1ZM-0.22,-0.22H0.22V0.22H-0.22Z","M-1.5,-0.07H1.5V0.07H-1.5ZM0,-0.3L0.3,0.22H-0.3Z"]},"legend":{"orient":"none","legendX":-10,"legendY":-165,"columns":2,"direction":"horizontal","title":null,"symbolSize":400,"symbolStrokeWidth":0,"symbolOpacity":1,"labelFontSize":15,"labelOffset":17,"labelLimit":400,"columnPadding":101,"rowPadding":12}}}}
]
},
{
"title":{"text":"b","anchor":"start","frame":"group","fontSize":17,"fontWeight":"bold","dx":-165,"offset":20},
"spacing":72,
"hconcat":[
{
"width":187,"height":178,
"title":{"text":"Spleen","fontSize":16,"fontWeight":"bold","offset":44},
"layer":[
{"data":{"name":"bars"},"transform":[{"filter":"datum.p == 'bS'"}],"mark":{"type":"bar","stroke":"black","strokeWidth":1.5,"width":20},"encoding":{
"x":{"field":"tr","type":"nominal","title":null,"scale":{"type":"band","domain":["Saline","CIM"],"paddingInner":0.263,"paddingOuter":0.1157,"align":0.886},"axis":{"ticks":false,"tickSize":0,"labelAngle":0,"labelPadding":114,"labelFontSize":15,"labelLineHeight":29,"labelExpr":"datum.value == 'CIM' ? ['CIM053', '-SG3376'] : datum.value"}},
"xOffset":{"field":"gd","type":"nominal","scale":{"type":"band","domain":["f0","f1","f2","f3","N1","N2","N3","N4","N5","sgNTC","N6","N7","N8","N9","N10","f4","f5","f6","f7","f8","f9","f10","f11","S1","S2","S3","S4","S5","sg49.3","S6","S7","S8","S9","S10","f12","f13","f14","f15"],"paddingInner":0,"paddingOuter":0}},
"y":{"field":"v","type":"quantitative","title":["MOLM-14","(Cell count)"],"scale":{"domain":[0,20000],"nice":false},"axis":{"values":[0,5000,10000,15000,20000],"tickCount":5,"offset":-13,"tickSize":11,"labelPadding":4,"labelFontSize":16,"labelOverlap":false,"labelSeparation":0,"titlePadding":47,"titleLineHeight":18,"labelExpr":"datum.value == 0 ? '0' : datum.value < 10000 ? format(datum.value / 1000, '.1f') + '×10³' : format(datum.value / 10000, '.1f') + '×10⁴'"}},
"color":{"field":"tr","type":"nominal","scale":{"domain":["Saline","CIM"],"range":["#ffffff","#d9d9d9"]},"legend":null}}},
{"data":{"name":"bars"},"transform":[{"filter":"datum.p == 'bS'"}],"mark":{"type":"rule","strokeWidth":1.5,"color":"black"},"encoding":{
"x":{"field":"tr","type":"nominal"},"xOffset":{"field":"gd","type":"nominal"},"y":{"field":"v","type":"quantitative"},"y2":{"field":"hi"}}},
{"data":{"name":"bars"},"transform":[{"filter":"datum.p == 'bS'"}],"mark":{"type":"tick","orient":"horizontal","size":11,"thickness":1.5,"color":"black","opacity":1},"encoding":{
"x":{"field":"tr","type":"nominal"},"xOffset":{"field":"gd","type":"nominal"},"y":{"field":"hi","type":"quantitative"}}},
{"data":{"name":"brk"},"transform":[{"filter":"datum.p == 'bS'"}],"mark":{"type":"line","color":"black","strokeWidth":1.3},"encoding":{
"x":{"field":"tr","type":"nominal"},"xOffset":{"field":"gd","type":"nominal"},"y":{"field":"v","type":"quantitative"},"detail":{"field":"id"},"order":{"field":"k"}}},
{"data":{"name":"btxt"},"transform":[{"filter":"datum.p == 'bS' && datum.kind == 'cross'"}],"mark":{"type":"text","dx":47.5,"dy":-4,"baseline":"alphabetic","fontSize":15},"encoding":{
"x":{"field":"tr","type":"nominal"},"xOffset":{"field":"gd","type":"nominal"},"y":{"field":"v","type":"quantitative"},"text":{"field":"t"}}},
{"data":{"name":"bars"},"transform":[{"filter":"datum.p == 'bS'"}],"mark":{"type":"tick","orient":"vertical","size":12,"thickness":1.8,"color":"black","opacity":1,"yOffset":6},"encoding":{
"x":{"field":"tr","type":"nominal"},"xOffset":{"field":"gd","type":"nominal"},"y":{"datum":0}}},
{"data":{"name":"bars"},"transform":[{"filter":"datum.p == 'bS'"}],"mark":{"type":"text","angle":270,"align":"right","baseline":"middle","fontSize":15,"yOffset":16},"encoding":{
"x":{"field":"tr","type":"nominal"},"xOffset":{"field":"gd","type":"nominal"},"y":{"datum":0},"text":{"field":"gd"}}},
{"data":{"name":"bars"},"transform":[{"filter":"datum.p == 'bS' && datum.gd == 'sgNTC'"}],"mark":{"type":"tick","orient":"horizontal","size":75,"thickness":2,"color":"black","opacity":1,"yOffset":103},"encoding":{
"x":{"field":"tr","type":"nominal"},"y":{"datum":0}}},
{"data":{"name":"pts"},"transform":[{"filter":"datum.p == 'bS'"}],"mark":{"type":"point","filled":true,"color":"black","opacity":1,"size":30},"encoding":{
"x":{"field":"tr","type":"nominal"},"xOffset":{"field":"s","type":"nominal"},"y":{"field":"v","type":"quantitative"}}}
]
},
{
"width":187,"height":178,
"title":{"text":"Blood","fontSize":16,"fontWeight":"bold","offset":103},
"layer":[
{"data":{"name":"bars"},"transform":[{"filter":"datum.p == 'bB'"}],"mark":{"type":"bar","stroke":"black","strokeWidth":1.5,"width":20},"encoding":{
"x":{"field":"tr","type":"nominal","title":null,"scale":{"type":"band","domain":["Saline","CIM"],"paddingInner":0.263,"paddingOuter":0.1157,"align":0.886},"axis":{"ticks":false,"tickSize":0,"labelAngle":0,"labelPadding":114,"labelFontSize":15,"labelLineHeight":29,"labelExpr":"datum.value == 'CIM' ? ['CIM053', '-SG3376'] : datum.value"}},
"xOffset":{"field":"gd","type":"nominal","scale":{"type":"band","domain":["f0","f1","f2","f3","N1","N2","N3","N4","N5","sgNTC","N6","N7","N8","N9","N10","f4","f5","f6","f7","f8","f9","f10","f11","S1","S2","S3","S4","S5","sg49.3","S6","S7","S8","S9","S10","f12","f13","f14","f15"],"paddingInner":0,"paddingOuter":0}},
"y":{"field":"v","type":"quantitative","title":null,"scale":{"domain":[0,50000],"nice":false},"axis":{"values":[0,10000,20000,30000,40000,50000],"tickCount":6,"offset":-13,"tickSize":11,"labelPadding":4,"labelFontSize":16,"labelOverlap":false,"labelSeparation":0,"labelExpr":"datum.value == 0 ? '0' : format(datum.value / 10000, '.0f') + '×10⁴'"}},
"color":{"field":"tr","type":"nominal","scale":{"domain":["Saline","CIM"],"range":["#ffffff","#d9d9d9"]},"legend":null}}},
{"data":{"name":"bars"},"transform":[{"filter":"datum.p == 'bB'"}],"mark":{"type":"rule","strokeWidth":1.5,"color":"black"},"encoding":{
"x":{"field":"tr","type":"nominal"},"xOffset":{"field":"gd","type":"nominal"},"y":{"field":"v","type":"quantitative"},"y2":{"field":"hi"}}},
{"data":{"name":"bars"},"transform":[{"filter":"datum.p == 'bB'"}],"mark":{"type":"tick","orient":"horizontal","size":11,"thickness":1.5,"color":"black","opacity":1},"encoding":{
"x":{"field":"tr","type":"nominal"},"xOffset":{"field":"gd","type":"nominal"},"y":{"field":"hi","type":"quantitative"}}},
{"data":{"name":"bars"},"transform":[{"filter":"datum.p == 'bB'"}],"mark":{"type":"tick","orient":"vertical","size":12,"thickness":1.8,"color":"black","opacity":1,"yOffset":6},"encoding":{
"x":{"field":"tr","type":"nominal"},"xOffset":{"field":"gd","type":"nominal"},"y":{"datum":0}}},
{"data":{"name":"bars"},"transform":[{"filter":"datum.p == 'bB'"}],"mark":{"type":"text","angle":270,"align":"right","baseline":"middle","fontSize":15,"yOffset":16},"encoding":{
"x":{"field":"tr","type":"nominal"},"xOffset":{"field":"gd","type":"nominal"},"y":{"datum":0},"text":{"field":"gd"}}},
{"data":{"name":"bars"},"transform":[{"filter":"datum.p == 'bB' && datum.gd == 'sgNTC'"}],"mark":{"type":"tick","orient":"horizontal","size":75,"thickness":2,"color":"black","opacity":1,"yOffset":103},"encoding":{
"x":{"field":"tr","type":"nominal"},"y":{"datum":0}}},
{"data":{"name":"pts"},"transform":[{"filter":"datum.p == 'bB'"}],"mark":{"type":"point","filled":true,"color":"black","opacity":1,"size":30},"encoding":{
"x":{"field":"tr","type":"nominal"},"xOffset":{"field":"s","type":"nominal"},"y":{"field":"v","type":"quantitative"}}}
]
}
]
},
{
"title":{"text":"c","anchor":"start","frame":"group","fontSize":17,"fontWeight":"bold","dx":-165,"offset":18},
"spacing":72,
"hconcat":[
{
"width":187,"height":180,
"title":{"text":"Spleen","fontSize":16,"fontWeight":"bold","offset":48},
"layer":[
{"data":{"name":"bars"},"transform":[{"filter":"datum.p == 'cS'"}],"mark":{"type":"bar","stroke":"black","strokeWidth":1.5,"width":20},"encoding":{
"x":{"field":"tr","type":"nominal","title":null,"scale":{"type":"band","domain":["Saline","CIM"],"paddingInner":0.263,"paddingOuter":0.1157,"align":0.886},"axis":{"ticks":false,"tickSize":0,"labelAngle":0,"labelPadding":114,"labelFontSize":15,"labelLineHeight":29,"labelExpr":"datum.value == 'CIM' ? ['CIM053', '-SG3376'] : datum.value"}},
"xOffset":{"field":"gd","type":"nominal","scale":{"type":"band","domain":["f0","f1","f2","f3","N1","N2","N3","N4","N5","sgNTC","N6","N7","N8","N9","N10","f4","f5","f6","f7","f8","f9","f10","f11","S1","S2","S3","S4","S5","sg49.3","S6","S7","S8","S9","S10","f12","f13","f14","f15"],"paddingInner":0,"paddingOuter":0}},
"y":{"field":"v","type":"quantitative","title":["Non-tumour human cells","(Count)"],"scale":{"domain":[0,1500000],"nice":false},"axis":{"values":[0,500000,1000000,1500000],"tickCount":4,"offset":-13,"tickSize":11,"labelPadding":4,"labelFontSize":16,"labelOverlap":false,"labelSeparation":0,"titlePadding":47,"titleLineHeight":18,"labelExpr":"datum.value == 0 ? '0' : datum.value < 1000000 ? format(datum.value / 100000, '.1f') + '×10⁵' : format(datum.value / 1000000, '.1f') + '×10⁶'"}},
"color":{"field":"tr","type":"nominal","scale":{"domain":["Saline","CIM"],"range":["#ffffff","#d9d9d9"]},"legend":null}}},
{"data":{"name":"bars"},"transform":[{"filter":"datum.p == 'cS'"}],"mark":{"type":"rule","strokeWidth":1.5,"color":"black"},"encoding":{
"x":{"field":"tr","type":"nominal"},"xOffset":{"field":"gd","type":"nominal"},"y":{"field":"v","type":"quantitative"},"y2":{"field":"hi"}}},
{"data":{"name":"bars"},"transform":[{"filter":"datum.p == 'cS'"}],"mark":{"type":"tick","orient":"horizontal","size":11,"thickness":1.5,"color":"black","opacity":1},"encoding":{
"x":{"field":"tr","type":"nominal"},"xOffset":{"field":"gd","type":"nominal"},"y":{"field":"hi","type":"quantitative"}}},
{"data":{"name":"brk"},"transform":[{"filter":"datum.p == 'cS'"}],"mark":{"type":"line","color":"black","strokeWidth":1.3},"encoding":{
"x":{"field":"tr","type":"nominal"},"xOffset":{"field":"gd","type":"nominal"},"y":{"field":"v","type":"quantitative"},"detail":{"field":"id"},"order":{"field":"k"}}},
{"data":{"name":"btxt"},"transform":[{"filter":"datum.p == 'cS' && datum.kind == 'cross'"}],"mark":{"type":"text","dx":47.5,"dy":-4,"baseline":"alphabetic","fontSize":15},"encoding":{
"x":{"field":"tr","type":"nominal"},"xOffset":{"field":"gd","type":"nominal"},"y":{"field":"v","type":"quantitative"},"text":{"field":"t"}}},
{"data":{"name":"btxt"},"transform":[{"filter":"datum.p == 'cS' && datum.kind == 'within'"}],"mark":{"type":"text","dy":-4,"baseline":"alphabetic","fontSize":15},"encoding":{
"x":{"field":"tr","type":"nominal"},"y":{"field":"v","type":"quantitative"},"text":{"field":"t"}}},
{"data":{"name":"bars"},"transform":[{"filter":"datum.p == 'cS'"}],"mark":{"type":"tick","orient":"vertical","size":12,"thickness":1.8,"color":"black","opacity":1,"yOffset":6},"encoding":{
"x":{"field":"tr","type":"nominal"},"xOffset":{"field":"gd","type":"nominal"},"y":{"datum":0}}},
{"data":{"name":"bars"},"transform":[{"filter":"datum.p == 'cS'"}],"mark":{"type":"text","angle":270,"align":"right","baseline":"middle","fontSize":15,"yOffset":16},"encoding":{
"x":{"field":"tr","type":"nominal"},"xOffset":{"field":"gd","type":"nominal"},"y":{"datum":0},"text":{"field":"gd"}}},
{"data":{"name":"bars"},"transform":[{"filter":"datum.p == 'cS' && datum.gd == 'sgNTC'"}],"mark":{"type":"tick","orient":"horizontal","size":75,"thickness":2,"color":"black","opacity":1,"yOffset":103},"encoding":{
"x":{"field":"tr","type":"nominal"},"y":{"datum":0}}},
{"data":{"name":"pts"},"transform":[{"filter":"datum.p == 'cS'"}],"mark":{"type":"point","filled":true,"color":"black","opacity":1,"size":30},"encoding":{
"x":{"field":"tr","type":"nominal"},"xOffset":{"field":"s","type":"nominal"},"y":{"field":"v","type":"quantitative"}}}
]
},
{
"width":187,"height":180,
"title":{"text":"Blood","fontSize":16,"fontWeight":"bold","offset":42},
"layer":[
{"data":{"name":"bars"},"transform":[{"filter":"datum.p == 'cB'"}],"mark":{"type":"bar","stroke":"black","strokeWidth":1.5,"width":20},"encoding":{
"x":{"field":"tr","type":"nominal","title":null,"scale":{"type":"band","domain":["Saline","CIM"],"paddingInner":0.263,"paddingOuter":0.1157,"align":0.886},"axis":{"ticks":false,"tickSize":0,"labelAngle":0,"labelPadding":114,"labelFontSize":15,"labelLineHeight":29,"labelExpr":"datum.value == 'CIM' ? ['CIM053', '-SG3376'] : datum.value"}},
"xOffset":{"field":"gd","type":"nominal","scale":{"type":"band","domain":["f0","f1","f2","f3","N1","N2","N3","N4","N5","sgNTC","N6","N7","N8","N9","N10","f4","f5","f6","f7","f8","f9","f10","f11","S1","S2","S3","S4","S5","sg49.3","S6","S7","S8","S9","S10","f12","f13","f14","f15"],"paddingInner":0,"paddingOuter":0}},
"y":{"field":"v","type":"quantitative","title":null,"scale":{"domain":[0,50000],"nice":false},"axis":{"values":[0,10000,20000,30000,40000,50000],"tickCount":6,"offset":-13,"tickSize":11,"labelPadding":4,"labelFontSize":16,"labelOverlap":false,"labelSeparation":0,"labelExpr":"datum.value == 0 ? '0' : format(datum.value / 10000, '.0f') + '×10⁴'"}},
"color":{"field":"tr","type":"nominal","scale":{"domain":["Saline","CIM"],"range":["#ffffff","#d9d9d9"]},"legend":null}}},
{"data":{"name":"bars"},"transform":[{"filter":"datum.p == 'cB'"}],"mark":{"type":"rule","strokeWidth":1.5,"color":"black"},"encoding":{
"x":{"field":"tr","type":"nominal"},"xOffset":{"field":"gd","type":"nominal"},"y":{"field":"v","type":"quantitative"},"y2":{"field":"hi"}}},
{"data":{"name":"bars"},"transform":[{"filter":"datum.p == 'cB'"}],"mark":{"type":"tick","orient":"horizontal","size":11,"thickness":1.5,"color":"black","opacity":1},"encoding":{
"x":{"field":"tr","type":"nominal"},"xOffset":{"field":"gd","type":"nominal"},"y":{"field":"hi","type":"quantitative"}}},
{"data":{"name":"brk"},"transform":[{"filter":"datum.p == 'cB'"}],"mark":{"type":"line","color":"black","strokeWidth":1.3},"encoding":{
"x":{"field":"tr","type":"nominal"},"xOffset":{"field":"gd","type":"nominal"},"y":{"field":"v","type":"quantitative"},"detail":{"field":"id"},"order":{"field":"k"}}},
{"data":{"name":"btxt"},"transform":[{"filter":"datum.p == 'cB' && datum.kind == 'cross'"}],"mark":{"type":"text","dx":47.5,"dy":-4,"baseline":"alphabetic","fontSize":15},"encoding":{
"x":{"field":"tr","type":"nominal"},"xOffset":{"field":"gd","type":"nominal"},"y":{"field":"v","type":"quantitative"},"text":{"field":"t"}}},
{"data":{"name":"btxt"},"transform":[{"filter":"datum.p == 'cB' && datum.kind == 'within'"}],"mark":{"type":"text","dy":-4,"baseline":"alphabetic","fontSize":15},"encoding":{
"x":{"field":"tr","type":"nominal"},"y":{"field":"v","type":"quantitative"},"text":{"field":"t"}}},
{"data":{"name":"bars"},"transform":[{"filter":"datum.p == 'cB'"}],"mark":{"type":"tick","orient":"vertical","size":12,"thickness":1.8,"color":"black","opacity":1,"yOffset":6},"encoding":{
"x":{"field":"tr","type":"nominal"},"xOffset":{"field":"gd","type":"nominal"},"y":{"datum":0}}},
{"data":{"name":"bars"},"transform":[{"filter":"datum.p == 'cB'"}],"mark":{"type":"text","angle":270,"align":"right","baseline":"middle","fontSize":15,"yOffset":16},"encoding":{
"x":{"field":"tr","type":"nominal"},"xOffset":{"field":"gd","type":"nominal"},"y":{"datum":0},"text":{"field":"gd"}}},
{"data":{"name":"bars"},"transform":[{"filter":"datum.p == 'cB' && datum.gd == 'sgNTC'"}],"mark":{"type":"tick","orient":"horizontal","size":75,"thickness":2,"color":"black","opacity":1,"yOffset":103},"encoding":{
"x":{"field":"tr","type":"nominal"},"y":{"datum":0}}},
{"data":{"name":"pts"},"transform":[{"filter":"datum.p == 'cB'"}],"mark":{"type":"point","filled":true,"color":"black","opacity":1,"size":30},"encoding":{
"x":{"field":"tr","type":"nominal"},"xOffset":{"field":"s","type":"nominal"},"y":{"field":"v","type":"quantitative"}}}
]
}
]
}
]
}
